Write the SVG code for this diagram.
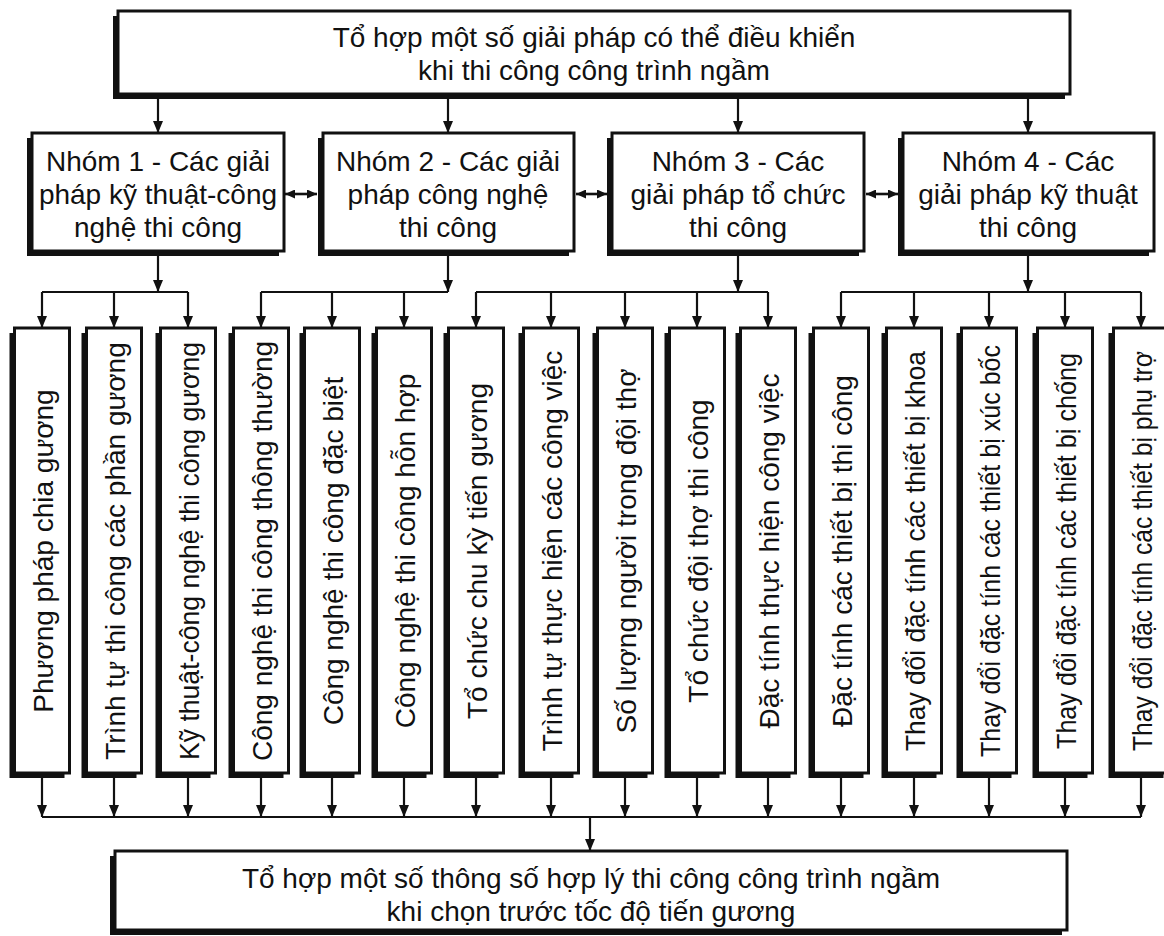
<svg xmlns="http://www.w3.org/2000/svg" width="1164" height="936" viewBox="0 0 1164 936">
<defs>
<style>
.sh{fill:#111}
.bx{fill:#fff;stroke:#111;stroke-width:3}
.t{font-family:"Liberation Sans",Arial,sans-serif;font-size:28px;fill:#111;text-anchor:middle}
.c{stroke:#111;stroke-width:2.2;fill:none}
.a{stroke:#111;stroke-width:2.2;fill:none;marker-end:url(#ah)}
.d{stroke:#111;stroke-width:2.6;fill:none;marker-end:url(#ah2);marker-start:url(#ah2)}
</style>
<marker id="ah" markerUnits="userSpaceOnUse" markerWidth="12" markerHeight="10" refX="12" refY="5" orient="auto"><path d="M0,0 L12,5 L0,10 z" fill="#111"/></marker>
<marker id="ah2" markerUnits="userSpaceOnUse" markerWidth="10" markerHeight="9" refX="10" refY="4.5" orient="auto-start-reverse"><path d="M0,0 L10,4.5 L0,9 z" fill="#111"/></marker>
</defs>
<rect width="1164" height="936" fill="#fff"/>

<g id="top">
<rect class="sh" x="113" y="16" width="952" height="83"/>
<rect class="bx" x="118" y="11" width="952" height="83"/>
<text class="t" x="594" y="47">Tổ hợp một số giải pháp có thể điều khiển</text>
<text class="t" x="594" y="80">khi thi công công trình ngầm</text>
</g>

<g id="g1">
<rect class="sh" x="27" y="138" width="252" height="118"/>
<rect class="bx" x="32" y="133" width="252" height="118"/>
<text class="t" x="158" y="171">Nhóm 1 - Các giải</text>
<text class="t" x="158" y="204">pháp kỹ thuật-công</text>
<text class="t" x="158" y="237">nghệ thi công</text>
</g>
<g id="g2">
<rect class="sh" x="318" y="138" width="251" height="118"/>
<rect class="bx" x="323" y="133" width="251" height="118"/>
<text class="t" x="448" y="171">Nhóm 2 - Các giải</text>
<text class="t" x="448" y="204">pháp công nghệ</text>
<text class="t" x="448" y="237">thi công</text>
</g>
<g id="g3">
<rect class="sh" x="607" y="138" width="252" height="118"/>
<rect class="bx" x="612" y="133" width="252" height="118"/>
<text class="t" x="738" y="171">Nhóm 3 - Các</text>
<text class="t" x="738" y="204">giải pháp tổ chức</text>
<text class="t" x="738" y="237">thi công</text>
</g>
<g id="g4">
<rect class="sh" x="898" y="138" width="251" height="118"/>
<rect class="bx" x="903" y="133" width="251" height="118"/>
<text class="t" x="1028" y="171">Nhóm 4 - Các</text>
<text class="t" x="1028" y="204">giải pháp kỹ thuật</text>
<text class="t" x="1028" y="237">thi công</text>
</g>

<g id="b1"><rect class="sh" x="9.5" y="333" width="55" height="445"/><rect class="bx" x="14.5" y="328" width="55" height="445"/><text class="t" transform="translate(52.5,551) rotate(-90)">Phương pháp chia gương</text></g>
<g id="b2"><rect class="sh" x="81.5" y="333" width="55" height="445"/><rect class="bx" x="86.5" y="328" width="55" height="445"/><text class="t" transform="translate(124.5,551) rotate(-90)">Trình tự thi công các phần gương</text></g>
<g id="b3"><rect class="sh" x="155.5" y="333" width="55" height="445"/><rect class="bx" x="160.5" y="328" width="55" height="445"/><text class="t" transform="translate(198.5,551) rotate(-90)" textLength="418" lengthAdjust="spacingAndGlyphs">Kỹ thuật-công nghệ thi công gương</text></g>
<g id="b4"><rect class="sh" x="228.5" y="333" width="55" height="445"/><rect class="bx" x="233.5" y="328" width="55" height="445"/><text class="t" transform="translate(271.5,551) rotate(-90)">Công nghệ thi công thông thường</text></g>
<g id="b5"><rect class="sh" x="299.5" y="333" width="55" height="445"/><rect class="bx" x="304.5" y="328" width="55" height="445"/><text class="t" transform="translate(342.5,551) rotate(-90)">Công nghệ thi công đặc biệt</text></g>
<g id="b6"><rect class="sh" x="371.5" y="333" width="55" height="445"/><rect class="bx" x="376.5" y="328" width="55" height="445"/><text class="t" transform="translate(414.5,551) rotate(-90)">Công nghệ thi công hỗn hợp</text></g>
<g id="b7"><rect class="sh" x="443.5" y="333" width="55" height="445"/><rect class="bx" x="448.5" y="328" width="55" height="445"/><text class="t" transform="translate(486.5,551) rotate(-90)">Tổ chức chu kỳ tiến gương</text></g>
<g id="b8"><rect class="sh" x="518.5" y="333" width="55" height="445"/><rect class="bx" x="523.5" y="328" width="55" height="445"/><text class="t" transform="translate(561.5,551) rotate(-90)">Trình tự thực hiện các công việc</text></g>
<g id="b9"><rect class="sh" x="592.5" y="333" width="55" height="445"/><rect class="bx" x="597.5" y="328" width="55" height="445"/><text class="t" transform="translate(635.5,551) rotate(-90)">Số lượng người trong đội thợ</text></g>
<g id="b10"><rect class="sh" x="664.5" y="333" width="55" height="445"/><rect class="bx" x="669.5" y="328" width="55" height="445"/><text class="t" transform="translate(707.5,551) rotate(-90)">Tổ chức đội thợ thi công</text></g>
<g id="b11"><rect class="sh" x="735.5" y="333" width="55" height="445"/><rect class="bx" x="740.5" y="328" width="55" height="445"/><text class="t" transform="translate(778.5,551) rotate(-90)">Đặc tính thực hiện công việc</text></g>
<g id="b12"><rect class="sh" x="808.5" y="333" width="55" height="445"/><rect class="bx" x="813.5" y="328" width="55" height="445"/><text class="t" transform="translate(851.5,551) rotate(-90)">Đặc tính các thiết bị thi công</text></g>
<g id="b13"><rect class="sh" x="881.5" y="333" width="55" height="445"/><rect class="bx" x="886.5" y="328" width="55" height="445"/><text class="t" transform="translate(924.5,551) rotate(-90)" textLength="400" lengthAdjust="spacingAndGlyphs">Thay đổi đặc tính các thiết bị khoa</text></g>
<g id="b14"><rect class="sh" x="956.5" y="333" width="55" height="445"/><rect class="bx" x="961.5" y="328" width="55" height="445"/><text class="t" transform="translate(999.5,551) rotate(-90)" textLength="412" lengthAdjust="spacingAndGlyphs">Thay đổi đặc tính các thiết bị xúc bốc</text></g>
<g id="b15"><rect class="sh" x="1032.5" y="333" width="55" height="445"/><rect class="bx" x="1037.5" y="328" width="55" height="445"/><text class="t" transform="translate(1075.5,551) rotate(-90)" textLength="396" lengthAdjust="spacingAndGlyphs">Thay đổi đặc tính các thiết bị chống</text></g>
<g id="b16"><rect class="sh" x="1108.5" y="333" width="55" height="445"/><rect class="bx" x="1113.5" y="328" width="55" height="445"/><text class="t" transform="translate(1151.5,551) rotate(-90)" textLength="400" lengthAdjust="spacingAndGlyphs">Thay đổi đặc tính các thiết bị phụ trợ</text></g>

<g id="bottom">
<rect class="sh" x="110" y="856" width="952" height="79"/>
<rect class="bx" x="115" y="851" width="952" height="79"/>
<text class="t" x="591" y="888">Tổ hợp một số thông số hợp lý thi công công trình ngầm</text>
<text class="t" x="591" y="921">khi chọn trước tốc độ tiến gương</text>
</g>

<g id="connectors">
<path class="a" d="M158,99V133"/><path class="a" d="M448,99V133"/><path class="a" d="M738,99V133"/><path class="a" d="M1028,99V133"/>
<path class="d" d="M285,194H317"/>
<path class="d" d="M576,194H607"/>
<path class="d" d="M866,194H898"/>
<path class="a" d="M158,256V292"/><path class="a" d="M448,256V292"/><path class="a" d="M738,256V292"/><path class="a" d="M1028,256V292"/>
<path class="c" d="M42,292H188M261,292H448M476,292H768M841,292H1141"/>
<path class="a" d="M42,292V328"/><path class="a" d="M114,292V328"/><path class="a" d="M188,292V328"/><path class="a" d="M261,292V328"/><path class="a" d="M332,292V328"/><path class="a" d="M404,292V328"/><path class="a" d="M476,292V328"/><path class="a" d="M551,292V328"/><path class="a" d="M625,292V328"/><path class="a" d="M697,292V328"/><path class="a" d="M768,292V328"/><path class="a" d="M841,292V328"/><path class="a" d="M914,292V328"/><path class="a" d="M989,292V328"/><path class="a" d="M1065,292V328"/><path class="a" d="M1141,292V328"/>
<path class="a" d="M42,778V817"/><path class="a" d="M114,778V817"/><path class="a" d="M188,778V817"/><path class="a" d="M261,778V817"/><path class="a" d="M332,778V817"/><path class="a" d="M404,778V817"/><path class="a" d="M476,778V817"/><path class="a" d="M551,778V817"/><path class="a" d="M625,778V817"/><path class="a" d="M697,778V817"/><path class="a" d="M768,778V817"/><path class="a" d="M841,778V817"/><path class="a" d="M914,778V817"/><path class="a" d="M989,778V817"/><path class="a" d="M1065,778V817"/><path class="a" d="M1141,778V817"/>
<path class="c" d="M42,817H1141"/>
<path class="a" d="M590,817V851"/>
</g>
</svg>
